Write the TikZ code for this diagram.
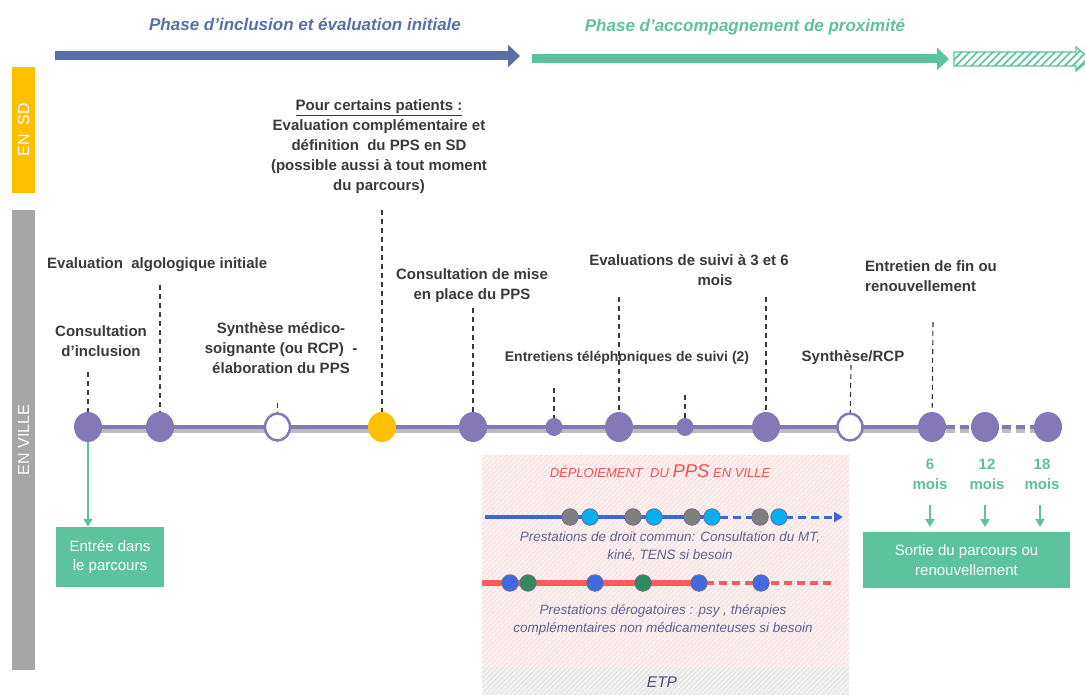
\documentclass[tikz,border=0pt]{standalone}
\usepackage{fontspec}
\setmainfont{Liberation Sans}
\usetikzlibrary{arrows.meta,patterns.meta,shapes.geometric}
\definecolor{phblue}{HTML}{5B6EA6}
\definecolor{phgreen}{HTML}{5DC29E}
\definecolor{tlpurple}{HTML}{8479B6}
\definecolor{sdyellow}{HTML}{FFC000}
\definecolor{barGray}{HTML}{A6A6A6}
\definecolor{lblgray}{HTML}{3A3A3A}
\definecolor{deplred}{HTML}{F0524F}
\definecolor{lineblue}{HTML}{3F66D9}
\definecolor{linered}{HTML}{FF5B5B}
\definecolor{dotgray}{HTML}{7F7F7F}
\definecolor{dotcyan}{HTML}{00B0F0}
\definecolor{dotgreen}{HTML}{2E8B5E}
\definecolor{dotblue}{HTML}{4169E1}
\definecolor{dotedge}{HTML}{6F6A8F}
\definecolor{slate}{HTML}{5A6494}
\definecolor{etptext}{HTML}{4A4F70}
\definecolor{pinkbg}{HTML}{FDF3F3}
\definecolor{pinkhatch}{HTML}{F7D6D6}
\definecolor{graybg}{HTML}{F3F3F3}
\definecolor{grayhatch}{HTML}{DCDCDC}
\definecolor{shadowgray}{HTML}{BDBDBD}
\begin{document}
\begin{tikzpicture}[x=1pt,y=-1pt,
  lbl/.style={font=\fontsize{15}{20}\selectfont\bfseries, text=lblgray, align=center, inner sep=0pt, anchor=north},
  vdash/.style={draw=lblgray, line width=1.1pt, dash pattern=on 5pt off 4pt},
  bigdot/.style={ellipse, fill=tlpurple, minimum width=28pt, minimum height=30pt, inner sep=0pt},
  smalldot/.style={ellipse, fill=tlpurple, minimum width=17pt, minimum height=18pt, inner sep=0pt},
  opendot/.style={ellipse, fill=white, draw=tlpurple, line width=2.5pt, minimum width=25pt, minimum height=27pt, inner sep=0pt},
  ydot/.style={ellipse, fill=sdyellow, minimum width=28pt, minimum height=30pt, inner sep=0pt},
  gbox/.style={fill=phgreen, text=white, font=\fontsize{15}{19.5}\selectfont, align=center, inner sep=0pt},
  mois/.style={font=\fontsize{15}{20}\selectfont\bfseries, text=phgreen, align=center, inner sep=0pt, anchor=north},
  garrow/.style={draw=phgreen, line width=1.8pt, -{Triangle[length=8pt,width=9pt]}},
  pdot/.style={circle, minimum size=16.5pt, inner sep=0pt, draw=dotedge, line width=0.8pt},
  itx/.style={font=\fontsize{13.5}{18}\selectfont\itshape, text=slate, align=center, inner sep=0pt, anchor=north},
  sidebar/.style={rotate=90, text=white, font=\fontsize{16}{16}\selectfont, inner sep=0pt},
  phase/.style={font=\fontsize{17}{20}\selectfont\bfseries\itshape, anchor=base, inner sep=0pt},
  tlline/.style={draw=tlpurple, line width=4.5pt},
  tlshadow/.style={draw=shadowgray, line width=4pt}
]
\useasboundingbox (0,0) rectangle (1085,695);
\fill[white] (0,0) rectangle (1085,695);

% ---------- phases ----------
\node[phase, text=phblue] (ph1) at (305,31) {Phase d’inclusion et évaluation initiale};
\node[phase, text=phgreen] (ph2) at (745,32) {Phase d’accompagnement de proximité};
\coordinate (pbS) at (55,56); \coordinate (pbE) at (520,56);
\draw[phblue, line width=9pt, -{Triangle[length=12pt,width=22pt]}] (pbS) -- (pbE);
\coordinate (pgS) at (532,59); \coordinate (pgE) at (949,59);
\draw[phgreen, line width=9pt, -{Triangle[length=12pt,width=22pt]}] (pgS) -- (pgE);
\fill[white] (954,52) -- (1076,52) -- (1076,47) -- (1090,59) -- (1076,71) -- (1076,66) -- (954,66) -- cycle;
\path[pattern={Lines[angle=45,distance=5.5pt,line width=1.7pt]}, pattern color=phgreen]
  (954,52) -- (1076,52) -- (1076,47) -- (1090,59) -- (1076,71) -- (1076,66) -- (954,66) -- cycle;
\draw[phgreen, line width=1.3pt, line join=miter]
  (954,52) -- (1076,52) -- (1076,47) -- (1090,59) -- (1076,71) -- (1076,66) -- (954,66) -- cycle;

% ---------- side bars ----------
\node[sidebar, fill=sdyellow, minimum width=126pt, minimum height=23pt] (sd) at (23.5,130) {EN~~SD};
\node[sidebar, fill=barGray, minimum width=460pt, minimum height=23pt] (ville) at (23.5,440) {EN~VILLE};

% ---------- deployment area ----------
\node[minimum width=367pt, minimum height=212pt, inner sep=0pt, preaction={fill=pinkbg},
      pattern={Lines[angle=45,distance=3.5pt,line width=0.7pt]}, pattern color=pinkhatch] (depl) at (665.5,561) {};
\node[minimum width=367pt, minimum height=28pt, inner sep=0pt, preaction={fill=graybg},
      pattern={Lines[angle=45,distance=3.5pt,line width=0.7pt]}, pattern color=grayhatch] (etpband) at (665.5,681) {};
\node[font=\fontsize{15.5}{18}\selectfont\itshape, text=etptext, anchor=base, inner sep=0pt] (etp) at (662,687) {ETP};
\node[font=\fontsize{13}{15}\selectfont\itshape, text=deplred, anchor=base, inner sep=0pt] (deptitle) at (660,477)
  {DÉPLOIEMENT~ DU {\fontsize{18.5}{18}\selectfont PPS} EN VILLE};

% blue line
\coordinate (bl0) at (485,517); \coordinate (bl1) at (707,517); \coordinate (bl2) at (843,517);
\draw[lineblue, line width=4.5pt] (bl0) -- (bl1);
\draw[lineblue, line width=3pt, dash pattern=on 8pt off 5pt, -{Triangle[length=9pt,width=10pt]}] (bl1) -- (bl2);
\foreach \x/\n in {570/g1,633/g2,692/g3,760/g4} \node[pdot, fill=dotgray] (\n) at (\x,517) {};
\foreach \x/\n in {590/c1,654/c2,712/c3,779/c4} \node[pdot, fill=dotcyan] (\n) at (\x,517) {};
\node[itx] (droit) at (670,531.5) {Prestations de droit commun: Consultation du MT,\\kiné, TENS si besoin};

% red line
\coordinate (rl0) at (482,583); \coordinate (rl1) at (706,583); \coordinate (rl2) at (836,583);
\draw[linered, line width=6.5pt] (rl0) -- (rl1);
\draw[linered, line width=3.5pt, dash pattern=on 8pt off 5pt] (rl1) -- (rl2);
\foreach \x/\n in {510/b1,595/b2,699/b3,761/b4} \node[pdot, fill=dotblue] (\n) at (\x,583) {};
\foreach \x/\n in {528/e1,643/e2} \node[pdot, fill=dotgreen] (\n) at (\x,583) {};
\node[itx] (derog) at (663,604.5) {Prestations dérogatoires : psy , thérapies\\complémentaires non médicamenteuses si besoin};

% ---------- timeline ----------
\coordinate (c1) at (88,427);   \coordinate (c2) at (160,427);  \coordinate (c3) at (277.5,427);
\coordinate (c4) at (382,427);  \coordinate (c5) at (473,427);  \coordinate (c6) at (554,427);
\coordinate (c7) at (619,427);  \coordinate (c8) at (685,427);  \coordinate (c9) at (766,427);
\coordinate (c10) at (850,427); \coordinate (c11) at (932,427); \coordinate (c12) at (985,427);
\coordinate (c13) at (1048,427);
\draw[tlshadow, transform canvas={yshift=-3.5pt}] (c1) -- (c11);
\draw[tlshadow, dash pattern=on 9pt off 5pt, transform canvas={yshift=-3.5pt}] (c11) -- (c13);
\draw[tlline] (c1) -- (c11);
\draw[tlline, dash pattern=on 9pt off 5pt] (c11) -- (c13);

\node[bigdot] (n1) at (c1) {};
\node[bigdot] (n2) at (c2) {};
\node[opendot] (n3) at (c3) {};
\node[ydot] (n4) at (c4) {};
\node[bigdot] (n5) at (c5) {};
\node[smalldot] (n6) at (c6) {};
\node[bigdot] (n7) at (c7) {};
\node[smalldot] (n8) at (c8) {};
\node[bigdot] (n9) at (c9) {};
\node[opendot] (n10) at (c10) {};
\node[bigdot] (n11) at (c11) {};
\node[bigdot] (n12) at (c12) {};
\node[bigdot] (n13) at (c13) {};

% ---------- labels ----------
\node[lbl, anchor=north west, align=left] (Leval) at (47,257.3) {Evaluation~ algologique initiale};
\node[lbl] (Lcons) at (101,325.3) {Consultation\\d’inclusion};
\node[lbl] (Lsyn) at (281,322.3) {Synthèse médico-\\soignante (ou RCP)~ -\\élaboration du PPS};
\node[lbl] (Lpour) at (379,99.3) {\underline{Pour certains patients :}\\Evaluation complémentaire et\\définition~ du PPS en SD\\(possible aussi à tout moment\\du parcours)};
\node[lbl] (Lmise) at (472,268.3) {Consultation de mise\\en place du PPS};
\node[lbl] (Lsuivi) at (689,254.3) {Evaluations de suivi à 3 et 6\\\hspace*{52pt}mois};
\node[lbl, font=\fontsize{14}{18}\selectfont\bfseries] (Ltel) at (627,351) {Entretiens téléphoniques de suivi (2)};
\node[lbl] (Lrcp) at (853,350.3) {Synthèse/RCP};
\node[lbl, anchor=north west, align=left] (Lfin) at (865,260.3) {Entretien de fin ou\\renouvellement};

% dashed leaders
\coordinate (t1) at (88,372);   \draw[vdash] (t1) -- (n1);
\coordinate (t2) at (160,285);  \draw[vdash] (t2) -- (n2);
\coordinate (t3) at (277.5,403); \draw[vdash] (t3) -- (n3);
\coordinate (t4) at (382,210);  \draw[vdash] (t4) -- (n4);
\coordinate (t5) at (473,308);  \draw[vdash] (t5) -- (n5);
\coordinate (t6) at (554,388);  \draw[vdash] (t6) -- (n6);
\coordinate (t7) at (619,297);  \draw[vdash] (t7) -- (n7);
\coordinate (t8) at (685,395);  \draw[vdash] (t8) -- (n8);
\coordinate (t9) at (766,297);  \draw[vdash] (t9) -- (n9);
\coordinate (t10) at (851,365); \draw[vdash] (t10) -- (n10);
\coordinate (t11) at (933,322); \draw[vdash] (t11) -- (n11);

% ---------- green boxes ----------
\node[gbox, minimum width=108pt, minimum height=60pt] (entree) at (110,557) {Entrée dans\\le parcours};
\draw[garrow] (n1.south) -- (n1.south |- entree.north);
\node[gbox, minimum width=207pt, minimum height=56pt] (sortie) at (966.5,560) {Sortie du parcours ou\\renouvellement};
\node[mois] (m6) at (930,459.3) {6\\mois};
\node[mois] (m12) at (987,459.3) {12\\mois};
\node[mois] (m18) at (1042,459.3) {18\\mois};
\coordinate (a6) at (930,505);  \coordinate (a6e) at (930,527);
\coordinate (a12) at (985,505); \coordinate (a12e) at (985,527);
\coordinate (a18) at (1040,505); \coordinate (a18e) at (1040,527);
\draw[garrow] (a6) -- (a6e);
\draw[garrow] (a12) -- (a12e);
\draw[garrow] (a18) -- (a18e);
\end{tikzpicture}
\end{document}
